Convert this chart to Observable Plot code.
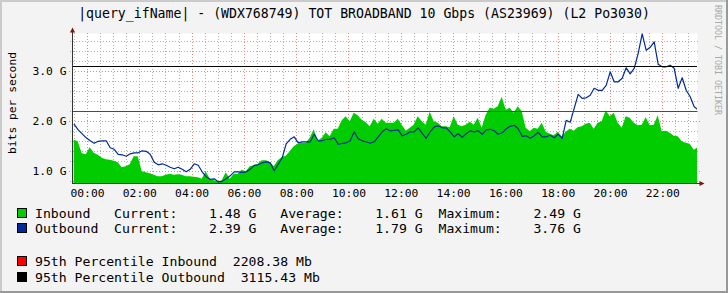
<!DOCTYPE html>
<html><head><meta charset="utf-8">
<script src="https://cdn.jsdelivr.net/npm/d3@7"></script>
<script src="https://cdn.jsdelivr.net/npm/@observablehq/plot@0.6"></script>
<style>
html,body{margin:0;padding:0;background:#f3f3f3;}
svg text{font-family:"DejaVu Sans Mono",monospace;}
g[aria-label="x-axis tick"], g[aria-label="y-axis tick"]{stroke:none;}
</style></head><body><div id="chart"></div>
<script>
// Sample values (G bits/s), evenly spaced in time
const inbound = [
1.63,1.6,1.36,1.34,1.48,1.37,1.33,1.27,1.24,1.23,
1.21,1.18,1.08,1.1,1.14,1.3,1.3,1.0,0.98,0.96,
0.93,0.9,0.9,0.93,0.95,0.93,0.94,0.93,0.9,0.9,
0.89,0.88,0.85,1.0,0.85,0.82,0.8,0.82,0.98,0.85,
0.95,0.95,1.03,1.0,1.1,1.12,1.15,1.22,1.22,1.19,
1.1,1.22,1.28,1.31,1.4,1.5,1.55,1.57,1.57,1.67,
1.84,1.61,1.67,1.78,1.7,1.85,1.85,2.02,2.1,2.0,
2.17,2.12,2.03,1.98,1.9,2.05,1.95,2.05,1.97,1.97,
1.97,2.05,1.93,1.81,1.87,1.93,2.1,2.0,1.93,2.19,
2.0,1.97,1.9,1.9,1.88,2.1,1.93,1.9,1.93,1.99,
1.93,2.07,1.87,2.13,2.27,2.25,2.3,2.49,2.23,2.27,
2.17,2.3,2.2,1.87,1.8,1.87,1.85,1.97,1.79,1.75,
1.72,1.79,1.7,1.79,1.85,1.81,1.88,1.9,1.95,1.97,
1.85,1.97,2.0,2.22,2.1,2.17,1.97,1.87,2.1,2.07,
1.97,1.92,1.93,2.08,1.92,1.93,2.12,1.8,1.81,1.77,
1.71,1.7,1.6,1.57,1.55,1.43,1.48];
const outbound = [
1.95,1.84,1.76,1.68,1.62,1.57,1.61,1.62,1.62,1.48,
1.45,1.35,1.34,1.31,1.36,1.38,1.38,1.42,1.41,1.35,
1.19,1.14,1.16,1.13,1.09,1.06,1.09,1.05,1.0,1.05,
1.16,1.13,1.0,0.9,0.85,0.86,0.8,0.81,0.86,0.92,
1.0,1.0,0.99,1.0,1.05,1.13,1.14,1.18,1.2,1.18,
1.02,1.15,1.28,1.56,1.65,1.7,1.58,1.6,1.6,1.6,
1.75,1.62,1.62,1.65,1.65,1.68,1.55,1.57,1.58,1.62,
1.8,1.66,1.62,1.6,1.57,1.6,1.7,1.8,1.86,1.82,
1.83,1.84,1.72,1.75,1.8,1.8,1.88,1.77,1.67,1.8,
1.9,1.92,1.88,1.88,1.8,1.7,1.76,1.69,1.76,1.82,
1.8,1.82,1.75,1.84,1.85,1.82,1.75,1.78,1.86,1.91,
1.93,1.86,1.71,1.72,1.67,1.72,1.79,1.7,1.7,1.73,
1.68,1.75,1.67,2.03,1.99,2.27,2.55,2.47,2.48,2.53,
2.67,2.63,2.63,2.73,3.0,2.8,2.8,2.87,3.08,2.96,
3.07,3.37,3.76,3.43,3.49,3.6,3.15,3.1,3.1,3.13,
3.07,2.67,2.88,2.63,2.5,2.3,2.24];
const startHour = -0.5086;   // first sample time (hours from 00:00)
const stepHours = 0.15296;   // sample interval (hours)
const xDomain = [-0.5736, 23.327];
const yDomain = [0.766, 3.766];
const hourTicks = [0,2,4,6,8,10,12,14,16,18,20,22];
const minorHours = [-0.5,0.5,1,1.5,2.5,3,3.5,4.5,5,5.5,6.5,7,7.5,8.5,9,9.5,10.5,11,11.5,12.5,13,13.5,14.5,15,15.5,16.5,17,17.5,18.5,19,19.5,20.5,21,21.5,22.5,23];
const yMajor = [1, 2, 3];
const yMinor = [0.8,1.2,1.4,1.6,1.8,2.2,2.4,2.6,2.8,3.2,3.4,3.6];
const percentileNames = ["95th Percentile Inbound", "95th Percentile Outbound"];
const percentileMb = [2208.38, 3115.43];
const percentileColors = ["#ff0000", "#000000"];
const seriesNames = ["Inbound", "Outbound"];
const seriesColors = ["#00cc00", "#002a97"];
const currentG = [1.48, 2.39];
const averageG = [1.61, 1.79];
const maximumG = [2.49, 3.76];
const title = "|query_ifName| - (WDX768749) TOT BROADBAND 10 Gbps (AS23969) (L2 Po3030)";

const rows = inbound.map((v, i) => ({t: startHour + i * stepHours, inbound: v, outbound: outbound[i]}));
const fmtHour = h => String(h).padStart(2, "0") + ":00";
const crisp = {shapeRendering: "crispEdges"};

const plot = Plot.plot({
  width: 728, height: 293,
  marginLeft: 72, marginRight: 31, marginTop: 33, marginBottom: 110,
  style: {background: "#f3f3f3", fontFamily: "'DejaVu Sans Mono', monospace", fontSize: "11.3px", color: "#000", overflow: "visible"},
  x: {domain: xDomain, ticks: hourTicks, tickFormat: fmtHour, tickSize: 0, tickPadding: 5.5, label: null},
  y: {domain: yDomain, ticks: yMajor, tickFormat: v => v.toFixed(1) + " G", tickSize: 0, tickPadding: 6, label: null},
  marks: [
    Plot.frame({fill: "#ffffff", stroke: null}),
    Plot.ruleY(yMinor, {stroke: "#b0b0b0", strokeDasharray: "1 2", insetLeft: -2, insetRight: -3, ...crisp}),
    Plot.ruleX(minorHours, {stroke: "#b0b0b0", strokeDasharray: "1 2", insetBottom: -2, ...crisp}),
    Plot.ruleY(yMajor, {stroke: "#e08888", strokeDasharray: "1 2", insetLeft: -3, insetRight: -3, ...crisp}),
    Plot.ruleX(hourTicks, {stroke: "#e08888", strokeDasharray: "1 2", insetBottom: -3, ...crisp}),
    Plot.areaY(rows, {x: "t", y: "inbound", fill: seriesColors[0], clip: true}),
    Plot.lineY(rows, {x: "t", y: "outbound", stroke: seriesColors[1], strokeWidth: 1.2, clip: true}),
    Plot.ruleY([percentileMb[0] / 1000], {stroke: percentileColors[0], strokeWidth: 1, ...crisp}),
    Plot.ruleY([percentileMb[1] / 1000], {stroke: percentileColors[1], strokeWidth: 1, ...crisp}),
    Plot.ruleX([xDomain[0]], {stroke: "#333", insetTop: -3, ...crisp}),
    Plot.ruleY([yDomain[0]], {stroke: "#333", insetRight: -3, ...crisp}),
    Plot.text(["bits per second"], {frameAnchor: "left", textAnchor: "middle", dx: -60.5, dy: -5.5, rotate: -90, fontSize: 11.3})
  ]
});

const svg = d3.select(plot);
const xs = plot.scale("x"), ys = plot.scale("y");
const x0 = xs.range[0], x1 = xs.range[1], yb = ys.range[0], yt = ys.range[1];
// arrows
svg.append("path").attr("d", `M${x0+0.5-2.5},${yt-0.5} L${x0+0.5+2.5},${yt-0.5} L${x0+0.5},${yt-5.5} Z`).attr("fill", "#7f1010");
svg.append("path").attr("d", `M${x1+2.5},${yb+0.5-2.5} L${x1+2.5},${yb+0.5+2.5} L${x1+7.5},${yb+0.5} Z`).attr("fill", "#7f1010");
// border
svg.append("rect").attr("x", 0).attr("y", 0).attr("width", 728).attr("height", 2).attr("fill", "#cbcbcb");
svg.append("rect").attr("x", 0).attr("y", 0).attr("width", 2).attr("height", 293).attr("fill", "#cbcbcb");
svg.append("rect").attr("x", 0).attr("y", 291).attr("width", 728).attr("height", 2).attr("fill", "#999999");
svg.append("rect").attr("x", 726).attr("y", 0).attr("width", 2).attr("height", 293).attr("fill", "#999999");
// title
svg.append("text").attr("x", 364).attr("y", 18).attr("text-anchor", "middle").attr("font-size", 13.2).attr("fill", "#000").text(title);
// watermark
svg.append("text").attr("transform", "translate(715,5) rotate(90)").attr("text-anchor", "start").attr("font-size", 8.3).attr("fill", "#a8a8a8").text("RRDTOOL / TOBI OETIKER");
// legend
const fmt = v => v.toFixed(2).padStart(8, " ") + " G";
const legendRows = [
  {color: seriesColors[0], y: 217.7, text: (seriesNames[0] + "   ").padEnd(10) + "Current:" + fmt(currentG[0]) + "   Average:" + fmt(averageG[0]) + "  Maximum:" + fmt(maximumG[0])},
  {color: seriesColors[1], y: 233.3, text: seriesNames[1].padEnd(10) + "Current:" + fmt(currentG[1]) + "   Average:" + fmt(averageG[1]) + "  Maximum:" + fmt(maximumG[1])},
  {color: percentileColors[0], y: 266, text: percentileNames[0] + "  " + percentileMb[0].toFixed(2) + " Mb"},
  {color: percentileColors[1], y: 281.7, text: percentileNames[1] + "  " + percentileMb[1].toFixed(2) + " Mb"}
];
for (const r of legendRows) {
  svg.append("rect").attr("x", 17.5).attr("y", Math.round(r.y) - 9.5).attr("width", 9).attr("height", 9).attr("fill", r.color).attr("stroke", "#000").attr("stroke-width", 1);
  svg.append("text").attr("x", 35).attr("y", r.y).attr("text-anchor", "start").attr("font-size", 13.15).attr("fill", "#000").attr("xml:space", "preserve").style("white-space", "pre").text(r.text);
}
document.getElementById("chart").appendChild(plot);
</script></body></html>
